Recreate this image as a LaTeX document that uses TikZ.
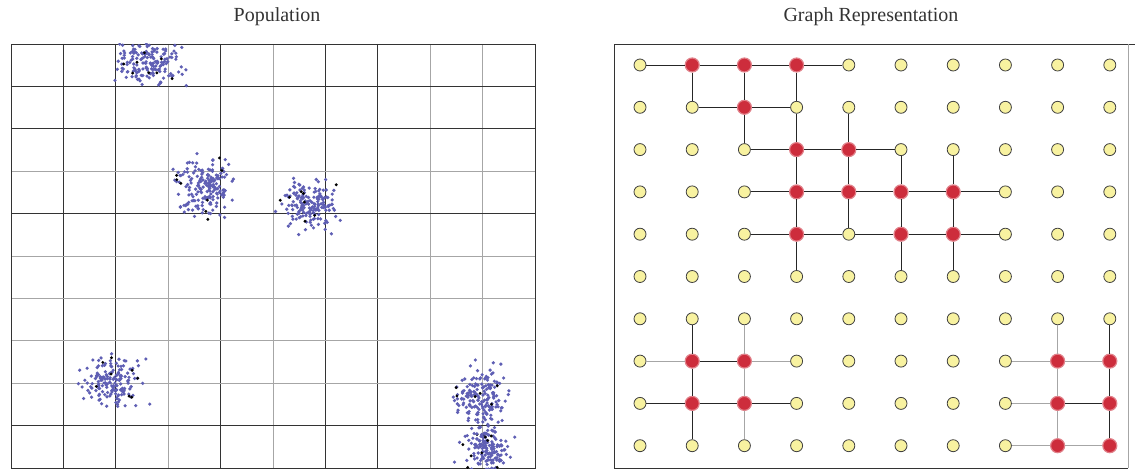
\documentclass[tikz,border=0pt]{standalone}
\usepackage{fontspec}
\setmainfont{Liberation Serif}
\usepackage{xstring}
\definecolor{dotblue}{RGB}{95,95,180}
\definecolor{nodered}{RGB}{205,45,60}
\definecolor{nodeyellow}{RGB}{248,242,160}
\newcommand\redset{,1-0,2-0,3-0,2-1,3-2,4-2,3-3,4-3,5-3,6-3,3-4,5-4,6-4,1-7,2-7,1-8,2-8,8-7,9-7,8-8,9-8,8-9,9-9,}
\begin{document}
\begin{tikzpicture}[
            x=1pt, y=-1pt,
            title/.style={font=\fontsize{20}{24}\selectfont, text=black!80},
            yellowpt/.style={circle, draw=black!75, line width=0.8pt, fill=nodeyellow, minimum size=12pt, inner sep=0pt},
            redpt/.style={circle, draw=nodered!60, line width=1.2pt, fill=nodered, minimum size=14pt, inner sep=0pt},
            link/.style={draw=black!85, line width=0.9pt},
            faint/.style={draw=black!35, line width=0.9pt},
            majorline/.style={draw=black!80, line width=0.9pt},
            minorline/.style={draw=black!35, line width=0.8pt}
        ]
        \useasboundingbox (0,0) rectangle (1135,470);
        \node[title] (poptitle) at (277,17) {Population};
        \node[title] (graphtitle) at (871,17) {Graph Representation};

        % population grid
        \foreach \i/\s in {1/majorline,2/majorline,3/minorline,4/majorline,5/minorline,6/majorline,7/majorline,8/minorline,9/minorline}
            \draw[\s] ({11+52.4*\i},44) -- ({11+52.4*\i},468);
        \foreach \j/\s in {1/majorline,2/majorline,3/minorline,4/majorline,5/minorline,6/minorline,7/minorline,8/minorline,9/majorline}
            \draw[\s] (11,{44+42.4*\j}) -- (535,{44+42.4*\j});
        \draw[majorline] (11,44) rectangle (535,468);

        \begin{scope}
            \clip (11,44) rectangle (535,468);
            \pgfmathsetseed{42}
            \foreach \cx/\cy/\sx/\sy/\n in {150/62/15/11/170, 204/186/13/14/180, 311/204/13/11/170, 114/382/14/12/160, 481/395/12/14/170, 487/449/12/13/160}{
                \foreach \k in {1,...,\n}{
                    \pgfmathsetmacro\px{\cx+\sx*(rand+rand+rand)}
                    \pgfmathsetmacro\py{\cy+\sy*(rand+rand+rand)}
                    \fill[dotblue] (\px,\py) circle (1.8pt);
                }
                \foreach \k in {1,...,8}{
                    \pgfmathsetmacro\px{\cx+1.3*\sx*(rand+rand+rand)}
                    \pgfmathsetmacro\py{\cy+1.3*\sy*(rand+rand+rand)}
                    \fill[black] (\px,\py) circle (1.6pt);
                }
            }
        \end{scope}

        % graph
        \draw[majorline] (1135,44) -- (614,44) -- (614,468) -- (1128,468);
        \draw[minorline] (1128,44) -- (1128,468);
        \foreach \c in {0,...,9}
            \foreach \r in {0,...,9}{
                \IfSubStr{\redset}{,\c-\r,}{\def\kind{redpt}}{\def\kind{yellowpt}}
                \node[\kind] (n-\c-\r) at ({640+52.2*\c},{65+42.3*\r}) {};
            }
        \foreach \a/\b/\c/\d in {0/0/1/0, 1/0/2/0, 2/0/3/0, 3/0/4/0, 1/0/1/1, 2/0/2/1, 3/0/3/1,
                1/1/2/1, 2/1/3/1, 2/1/2/2, 3/1/3/2, 4/1/4/2,
                2/2/3/2, 3/2/4/2, 4/2/5/2, 3/2/3/3, 4/2/4/3, 5/2/5/3, 6/2/6/3,
                2/3/3/3, 3/3/4/3, 4/3/5/3, 5/3/6/3, 6/3/7/3, 3/3/3/4, 4/3/4/4, 5/3/5/4, 6/3/6/4,
                2/4/3/4, 3/4/4/4, 4/4/5/4, 5/4/6/4, 6/4/7/4, 3/4/3/5, 5/4/5/5, 6/4/6/5,
                1/6/1/7, 1/7/2/7, 1/7/1/8, 0/8/1/8, 1/8/2/8, 2/8/3/8, 1/8/1/9,
                9/6/9/7, 9/7/9/8, 8/8/9/8, 9/8/9/9}
            \draw[link] (n-\a-\b) -- (n-\c-\d);
        \foreach \a/\b/\c/\d in {2/6/2/7, 0/7/1/7, 2/7/3/7, 2/7/2/8, 2/8/2/9,
                8/6/8/7, 7/7/8/7, 8/7/9/7, 8/7/8/8, 7/8/8/8, 8/8/8/9, 7/9/8/9, 8/9/9/9}
            \draw[faint] (n-\a-\b) -- (n-\c-\d);
    \end{tikzpicture}
\end{document}
